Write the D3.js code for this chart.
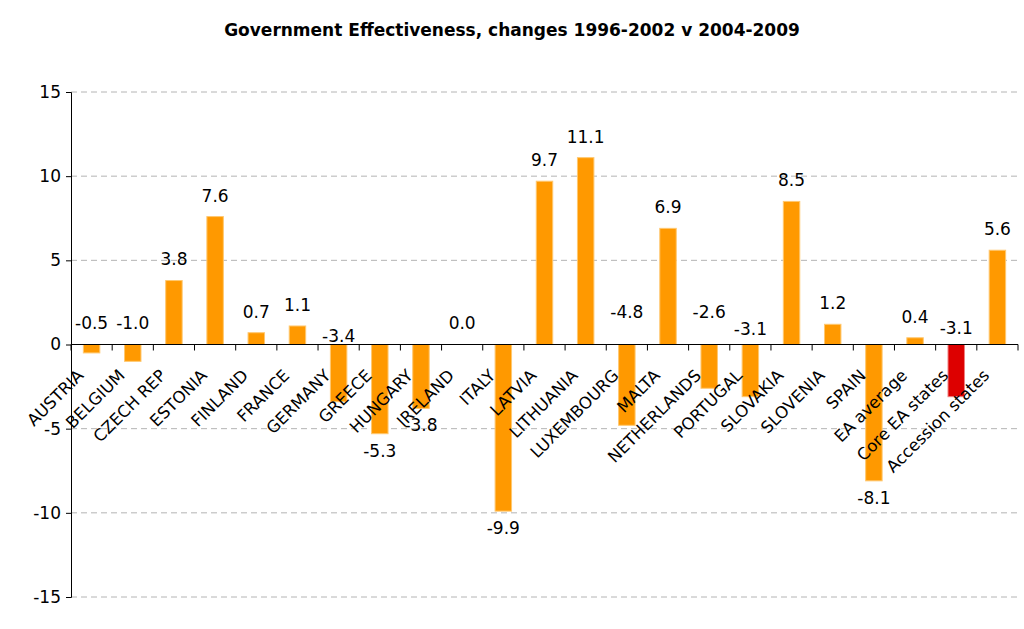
<!DOCTYPE html>
<html>
<head>
<meta charset="utf-8">
<script src="https://cdn.jsdelivr.net/npm/d3@7"></script>
<style>
  body { margin: 0; background: #fff; }
  text { font-family: "DejaVu Sans", Verdana, sans-serif; }
</style>
</head>
<body>
<div id="container"></div>
<script>
const categories = ["AUSTRIA", "BELGIUM", "CZECH REP", "ESTONIA", "FINLAND", "FRANCE", "GERMANY",
  "GREECE", "HUNGARY", "IRELAND", "ITALY", "LATVIA", "LITHUANIA", "LUXEMBOURG", "MALTA",
  "NETHERLANDS", "PORTUGAL", "SLOVAKIA", "SLOVENIA", "SPAIN", "EA average", "Core EA states",
  "Accession states"]
const values = [-0.5, -1.0, 3.8, 7.6, 0.7, 1.1, -3.4, -5.3, -3.8, 0.0, -9.9, 9.7, 11.1, -4.8,
  6.9, -2.6, -3.1, 8.5, 1.2, -8.1, 0.4, -3.1, 5.6]
// where the label of a negative bar was left sitting above the axis (in value units), else null
const labelAt = [1.3, 1.3, null, null, null, null, 0.5, null, null, null, null, null, null, 1.9,
  null, 1.9, 0.9, null, null, null, null, 1.0, null]
const highlight = ["Core EA states"]
const yTicks = [-15, -10, -5, 0, 5, 10, 15]
const title = "Government Effectiveness, changes 1996-2002 v 2004-2009"

const width = 1024
const height = 629
const margin = {top: 92, right: 6, bottom: 32, left: 71}

const svg = d3.create("svg")
            .attr("width", width)
            .attr("height", height)

const x = d3.scaleBand()
            .domain(categories)
            .range([margin.left, width - margin.right])
            .paddingInner(0.6)
            .paddingOuter(0.3)

const y = d3.scaleLinear()
            .domain([-15, 15])
            .range([height - margin.bottom, margin.top])

// plain hyphen instead of d3's unicode minus, like the original
const fmtTick = d => String(d)
const fmtVal = d => d.toFixed(1)

// title
svg.append("text")
    .attr("x", 512)
    .attr("y", 36)
    .attr("text-anchor", "middle")
    .attr("font-size", "17px")
    .attr("font-weight", "bold")
    .text(title)

// gridlines
svg.append("g")
    .selectAll("line")
    .data(yTicks.filter(d => d !== 0))
    .enter()
    .append("line")
    .attr("x1", margin.left)
    .attr("x2", width - margin.right)
    .attr("y1", d => y(d))
    .attr("y2", d => y(d))
    .attr("stroke", "#b4b4b4")
    .attr("stroke-dasharray", "6,4")

// y axis
const yAxis = svg.append("g")
    .attr("transform", `translate(${margin.left},0)`)
    .call(d3.axisLeft(y).tickValues(yTicks).tickSize(5).tickPadding(5).tickFormat(fmtTick))
yAxis.select(".domain").attr("stroke", "#000")
yAxis.selectAll("text")
    .attr("font-size", "17px")
    .attr("fill", "#000")
    .style("font-family", "'DejaVu Sans', Verdana, sans-serif")

// bars
svg.append("g")
    .selectAll("rect")
    .data(categories)
    .enter()
    .append("rect")
    .attr("x", d => x(d))
    .attr("width", x.bandwidth())
    .attr("y", (d, i) => y(Math.max(0, values[i])))
    .attr("height", (d, i) => Math.abs(y(values[i]) - y(0)))
    .attr("fill", d => highlight.includes(d) ? "#dd0000" : "#ff9900")
    .attr("stroke", d => highlight.includes(d) ? "#f08080" : "#ffc870")
    .attr("stroke-width", 1)

// x axis line with ticks at band boundaries
const x0 = margin.left
const slot = (width - margin.right - x0) / categories.length
svg.append("line")
    .attr("x1", x0)
    .attr("x2", width - margin.right)
    .attr("y1", y(0))
    .attr("y2", y(0))
    .attr("stroke", "#000")
svg.append("g")
    .selectAll("line")
    .data(d3.range(categories.length + 1))
    .enter()
    .append("line")
    .attr("x1", i => x0 + i * slot)
    .attr("x2", i => x0 + i * slot)
    .attr("y1", y(0))
    .attr("y2", y(0) + 6)
    .attr("stroke", "#000")

// category labels
svg.append("g")
    .selectAll("text")
    .data(categories)
    .enter()
    .append("text")
    .attr("transform", d => `translate(${x(d) + x.bandwidth() / 2 - 7},${y(0) + 32}) rotate(-45)`)
    .attr("text-anchor", "end")
    .attr("font-size", "16.5px")
    .text(d => d)

// value labels
svg.append("g")
    .selectAll("text")
    .data(categories)
    .enter()
    .append("text")
    .attr("x", d => x(d) + x.bandwidth() / 2)
    .attr("y", (d, i) => {
        const v = values[i]
        if (labelAt[i] !== null) return y(labelAt[i])
        if (v >= 0) return y(v) - 21
        return y(v) + 17
    })
    .attr("dy", "0.35em")
    .attr("text-anchor", "middle")
    .attr("font-size", "17px")
    .text((d, i) => fmtVal(values[i]))

document.querySelector("#container").appendChild(svg.node())
</script>
</body>
</html>
